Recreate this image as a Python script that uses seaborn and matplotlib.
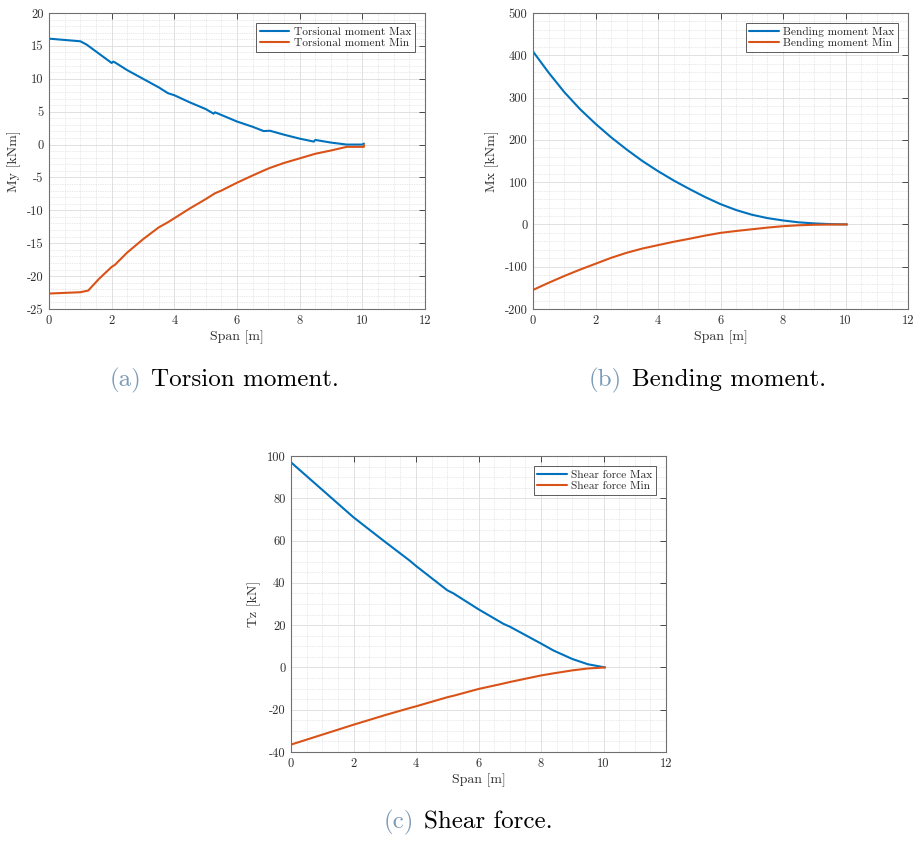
import numpy as np
import pandas as pd
import matplotlib
matplotlib.use("Agg")
import matplotlib.pyplot as plt
from matplotlib.ticker import MultipleLocator, FuncFormatter
import seaborn as sns

# ---------------- data ----------------
# (a) Torsional moment
xa_max = [0, 1.0, 1.2, 1.6, 2.0, 2.05, 2.1, 2.5, 3.0, 3.5, 3.8, 4.0, 4.5, 5.0,
          5.25, 5.3, 5.5, 6.0, 6.5, 6.85, 7.05, 7.5, 8.0, 8.45, 8.5, 9.0, 9.5, 10.0, 10.05]
ya_max = [16.1, 15.7, 15.2, 13.8, 12.4, 12.6, 12.5, 11.3, 10.0, 8.7, 7.8, 7.5, 6.4, 5.4,
          4.7, 4.9, 4.5, 3.5, 2.7, 2.05, 2.1, 1.5, 0.9, 0.45, 0.7, 0.3, 0.0, 0.0, 0.15]
xa_min = [0, 1.0, 1.25, 1.6, 2.0, 2.1, 2.5, 3.0, 3.5, 3.8, 4.0, 4.5, 5.0, 5.3, 5.5,
          6.0, 6.5, 6.9, 7.05, 7.5, 8.0, 8.5, 9.0, 9.5, 10.05, 10.05]
ya_min = [-22.65, -22.45, -22.2, -20.4, -18.6, -18.3, -16.4, -14.4, -12.6, -11.8, -11.2,
          -9.7, -8.3, -7.4, -7.0, -5.8, -4.7, -3.85, -3.55, -2.8, -2.1, -1.4, -0.9,
          -0.35, -0.35, -0.05]

# (b) Bending moment
xb = [0, 0.5, 1, 1.5, 2, 2.5, 3, 3.5, 4, 4.5, 5, 5.5, 6, 6.5, 7, 7.5, 8, 8.5, 9, 9.5, 10.05]
yb_max = [409, 359, 313, 273, 238, 206, 177, 150, 126, 104, 84, 65, 48, 34, 23, 15, 9.4,
          5, 2.4, 0.8, 0]
yb_min = [-155, -138, -122, -107, -93, -79, -67, -57, -49, -41, -34, -26.5, -20, -15.5,
          -11.5, -7.5, -4.2, -2.0, -0.8, -0.3, 0]

# (c) Shear force
xc = [0, 1, 2, 3, 3.8, 4, 5, 5.2, 6, 6.8, 7, 8, 8.4, 9, 9.5, 10.05]
yc_max = [97, 84, 71, 59.5, 50.5, 48, 36.5, 35, 27.5, 20.6, 19.3, 11.3, 8, 4, 1.5, 0]
yc_min = [-36.5, -31.8, -27.1, -22.6, -19.2, -18.4, -14.1, -13.4, -10.2, -7.6, -6.9,
          -3.8, -2.8, -1.4, -0.5, 0]

colors = ["#0072BD", "#D95319"]

sns.set_style("white")
plt.rcParams["font.family"] = ["cmr10", "DejaVu Serif"]
plt.rcParams["axes.unicode_minus"] = False
plt.rcParams["mathtext.fontset"] = "cm"

fig = plt.figure(figsize=(9.16, 8.41), dpi=100)

W, H = 916, 841
def ax_rect(l, t, r, b):
    return [l / W, 1 - b / H, (r - l) / W, (b - t) / H]

panels = [
    dict(rect=ax_rect(49, 13, 425, 309),
         series=[(xa_max, ya_max, "Torsional moment Max"), (xa_min, ya_min, "Torsional moment Min")],
         ylim=(-25, 20), ymaj=5, ymin=1, ylabel="My [kNm]"),
    dict(rect=ax_rect(533, 13, 908, 309),
         series=[(xb, yb_max, "Bending moment Max"), (xb, yb_min, "Bending moment Min")],
         ylim=(-200, 500), ymaj=100, ymin=20, ylabel="Mx [kNm]"),
    dict(rect=ax_rect(291, 456, 666, 752),
         series=[(xc, yc_max, "Shear force Max"), (xc, yc_min, "Shear force Min")],
         ylim=(-40, 100), ymaj=20, ymin=5, ylabel="Tz [kN]"),
]

tick_color = "#303030"
fmt = FuncFormatter(lambda v, pos: f"{v:g}")
for p in panels:
    ax = fig.add_axes(p["rect"])
    frames = []
    for xs, ys, name in p["series"]:
        frames.append(pd.DataFrame({"x": xs, "y": ys, "series": name}))
    df = pd.concat(frames, ignore_index=True)
    sns.lineplot(data=df, x="x", y="y", hue="series", palette=colors,
                 estimator=None, sort=False, linewidth=1.5, ax=ax)
    ax.set_xlim(0, 12)
    ax.set_ylim(*p["ylim"])
    ax.xaxis.set_major_locator(MultipleLocator(2))
    ax.xaxis.set_minor_locator(MultipleLocator(0.5))
    ax.yaxis.set_major_locator(MultipleLocator(p["ymaj"]))
    ax.yaxis.set_minor_locator(MultipleLocator(p["ymin"]))
    ax.grid(which="major", color="#dcdcdc", linewidth=0.6, linestyle="-")
    ax.grid(which="minor", color="#d4d4d4", linewidth=0.5, linestyle=(0, (1, 1.5)))
    ax.set_axisbelow(True)
    ax.tick_params(which="major", direction="in", length=4, width=0.6,
                   top=True, right=True, colors=tick_color, labelsize=9, pad=4)
    ax.tick_params(which="minor", length=0, top=True, right=True)
    for s in ax.spines.values():
        s.set_color("#707070")
        s.set_linewidth(0.8)
    ax.set_xlabel("Span [m]", fontsize=10, color=tick_color, labelpad=3)
    ax.set_ylabel(p["ylabel"], fontsize=10, color=tick_color, labelpad=4)
    ax.yaxis.set_major_formatter(fmt)
    ax.xaxis.set_major_formatter(fmt)
    leg = ax.legend(loc="upper right", fontsize=8.2, frameon=True, fancybox=False,
                    edgecolor="#333333", handlelength=2.6, borderpad=0.3,
                    labelspacing=0.15, handletextpad=0.4, borderaxespad=0.9)
    leg.get_frame().set_linewidth(0.7)

# captions
cap_color = "#7a9bb8"
caps = [((141, 380), "(a)", "Torsion moment."),
        ((622, 380), "(b)", "Bending moment."),
        ((414, 822), "(c)", "Shear force.")]
for (xr, yc), lab, txt in caps:
    fig.text(xr / W, 1 - yc / H, lab, ha="right", va="center", fontsize=18, color=cap_color)
    fig.text((xr + 10) / W, 1 - yc / H, txt, ha="left", va="center", fontsize=18, color="black")

fig.savefig("out.png", dpi=100, facecolor="white")
